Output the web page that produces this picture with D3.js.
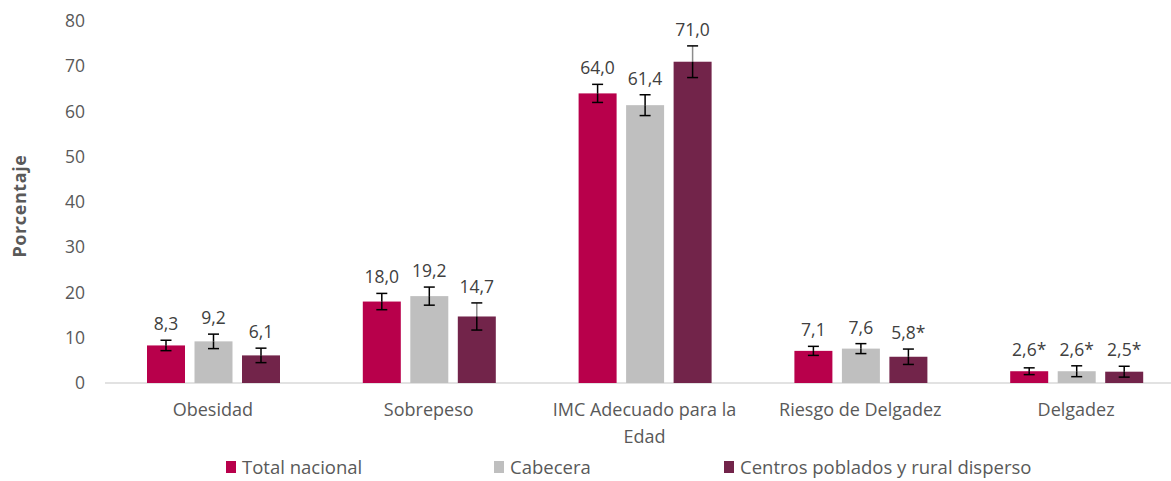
<!DOCTYPE html>
<html><head><meta charset="utf-8">
<script src="https://cdn.jsdelivr.net/npm/d3@7"></script>
<style>body{margin:0;background:#fff}svg{display:block}text{font-family:"Open Sans",sans-serif}</style>
</head><body><svg id="c" width="1171" height="481"></svg>
<script>
const categories = ["Obesidad","Sobrepeso","IMC Adecuado para la Edad","Riesgo de Delgadez","Delgadez"];
const seriesNames = ["Total nacional","Cabecera","Centros poblados y rural disperso"];
const totalNacional = [8.3,18.0,64.0,7.1,2.6];
const cabecera = [9.2,19.2,61.4,7.6,2.6];
const centrosPoblados = [6.1,14.7,71.0,5.8,2.5];
const errTotal = [1.15,1.8,2.0,1.0,0.75];
const errCabecera = [1.6,2.0,2.3,1.1,1.2];
const errCentros = [1.6,3.0,3.5,1.7,1.2];
const labelsTotal = ["8,3","18,0","64,0","7,1","2,6*"];
const labelsCabecera = ["9,2","19,2","61,4","7,6","2,6*"];
const labelsCentros = ["6,1","14,7","71,0","5,8*","2,5*"];
const yTicks = [0,10,20,30,40,50,60,70,80];
const colors = ["#B8004B","#BFBFBF","#72244A"];

const series = [
  {name:seriesNames[0], values:totalNacional, err:errTotal, labels:labelsTotal},
  {name:seriesNames[1], values:cabecera, err:errCabecera, labels:labelsCabecera},
  {name:seriesNames[2], values:centrosPoblados, err:errCentros, labels:labelsCentros}
];

const svg = d3.select("#c");
const x0 = d3.scaleBand().domain(categories).range([105,1184]).paddingInner(0).paddingOuter(0);
const x1 = d3.scaleBand().domain(d3.range(3)).range([42,175]).paddingInner(0.2).paddingOuter(0);
const y = d3.scaleLinear().domain([0,80]).range([383,21]);

const yAxis = d3.axisLeft(y).tickValues(yTicks).tickSize(0).tickPadding(0);
const gy = svg.append("g").attr("transform","translate(85,0)").call(yAxis);
gy.select(".domain").remove();
gy.selectAll("text").attr("fill","#595959").style("font-size","17.5px").style("font-family","'Open Sans',sans-serif");

svg.append("text").attr("transform","translate(26,206) rotate(-90)").attr("text-anchor","middle")
  .attr("fill","#595959").style("font-size","18px").style("font-weight","bold").style("letter-spacing","0.6px").text("Porcentaje");

svg.append("line").attr("x1",105).attr("x2",1171).attr("y1",y(0)).attr("y2",y(0)).attr("stroke","#D9D9D9").attr("stroke-width",1.5);

const groups = svg.selectAll(".grp").data(categories).join("g").attr("transform",d=>`translate(${x0(d)},0)`);
series.forEach((s,si)=>{
  groups.append("rect")
    .attr("x",(d,i)=>x1(si)).attr("width",x1.bandwidth())
    .attr("y",(d,i)=>y(s.values[i])).attr("height",(d,i)=>y(0)-y(s.values[i]))
    .attr("fill",colors[si]);
});
series.forEach((s,si)=>{
  const cx = x1(si)+x1.bandwidth()/2;
  groups.each(function(d,i){
    const g=d3.select(this);
    const v=s.values[i], e=s.err[i];
    // stem above bar top drawn lighter for the third series where it overlaps (as in reference)
    const upperColor = (si===2 && e>2.5) ? "#8C8C8C" : "#000";
    g.append("line").attr("x1",cx).attr("x2",cx).attr("y1",y(v+e)).attr("y2",y(v)).attr("stroke",upperColor).attr("stroke-width",1.5);
    g.append("line").attr("x1",cx).attr("x2",cx).attr("y1",y(v)).attr("y2",y(v-e)).attr("stroke","#000").attr("stroke-width",1.5);
    [v+e,v-e].forEach(t=>g.append("line").attr("x1",cx-5.5).attr("x2",cx+5.5).attr("y1",y(t)).attr("y2",y(t)).attr("stroke","#000").attr("stroke-width",1.5));
    const ly = Math.min(y(v)-15, y(v+e)-10);
    g.append("text").attr("x",cx).attr("y",ly).attr("text-anchor","middle").attr("fill","#404040")
      .style("font-size","17.5px").text(s.labels[i]);
  });
});

const wrapMap = {"IMC Adecuado para la Edad":["IMC Adecuado para la","Edad"]};
groups.each(function(d){
  const lines = wrapMap[d]||[d];
  const t=d3.select(this).append("text").attr("x",x0.bandwidth()/2).attr("y",416).attr("text-anchor","middle")
    .attr("fill","#595959").style("font-size","18px");
  lines.forEach((l,k)=>t.append("tspan").attr("x",x0.bandwidth()/2).attr("dy",k?27:0).text(l));
});

const legX=[226,494,724];
series.forEach((s,si)=>{
  svg.append("rect").attr("x",legX[si]).attr("y",461).attr("width",10).attr("height",12).attr("fill",colors[si]);
  svg.append("text").attr("x",legX[si]+16).attr("y",474).attr("fill","#595959").style("font-size","18.5px").text(s.name);
});
</script></body></html>
